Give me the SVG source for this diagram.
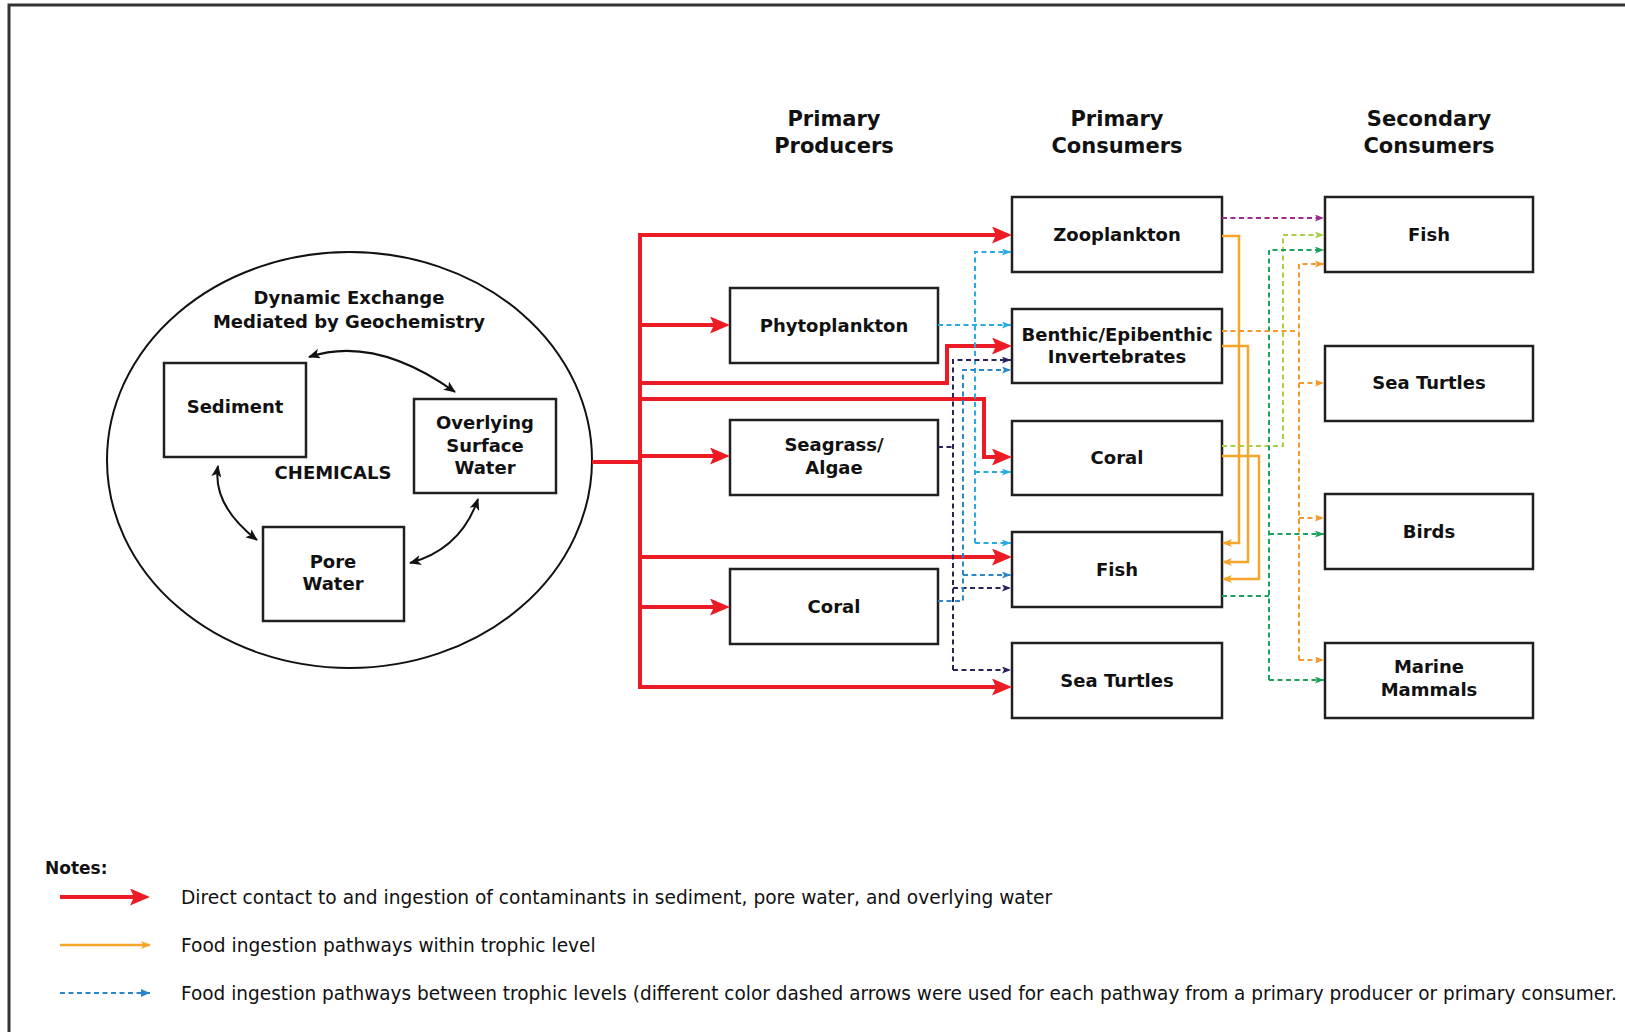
<svg xmlns="http://www.w3.org/2000/svg" width="1625" height="1032" viewBox="0 0 1625 1032">
<defs>
<style>
.box{fill:#fff;stroke:#231f20;stroke-width:2.5}
.lbl{font-family:"DejaVu Sans",sans-serif;font-weight:bold;font-size:18px;fill:#111;text-anchor:middle}
.hdr{font-family:"DejaVu Sans",sans-serif;font-weight:bold;font-size:21px;fill:#111;text-anchor:middle}
.note{font-family:"DejaVu Sans",sans-serif;font-size:18.6px;fill:#111}
.red{fill:none;stroke:#ed1c24;stroke-width:4;marker-end:url(#mR)}
.redl{fill:none;stroke:#ed1c24;stroke-width:4}
.osol{fill:none;stroke:#f5a52a;stroke-width:2.5}
.d{fill:none;stroke-width:2;stroke-dasharray:5 3.5}
.bk{fill:none;stroke:#111;stroke-width:2;marker-start:url(#mK);marker-end:url(#mK)}
</style>
<marker id="mR" markerUnits="userSpaceOnUse" markerWidth="20" markerHeight="17" viewBox="0 0 20 17" refX="10" refY="8.5" orient="auto"><path d="M0,0 L20,8.5 L0,17 L4,8.5 z" fill="#ed1c24"/></marker>
<marker id="mO" markerUnits="userSpaceOnUse" markerWidth="10" markerHeight="8" viewBox="0 0 10 8" refX="9" refY="4" orient="auto"><path d="M0,0 L10,4 L0,8 L2.5,4 z" fill="#f5a52a"/></marker>
<marker id="mK" markerUnits="userSpaceOnUse" markerWidth="12" markerHeight="10" viewBox="0 0 12 10" refX="11" refY="5" orient="auto-start-reverse"><path d="M0,0 L12,5 L0,10 L3,5 z" fill="#111"/></marker>
<marker id="mLB" markerUnits="userSpaceOnUse" markerWidth="9" markerHeight="7" viewBox="0 0 9 7" refX="9" refY="3.5" orient="auto"><path d="M0,0 L9,3.5 L0,7 L2,3.5 z" fill="#29abe2"/></marker>
<marker id="mMB" markerUnits="userSpaceOnUse" markerWidth="9" markerHeight="7" viewBox="0 0 9 7" refX="9" refY="3.5" orient="auto"><path d="M0,0 L9,3.5 L0,7 L2,3.5 z" fill="#2a86c8"/></marker>
<marker id="mNV" markerUnits="userSpaceOnUse" markerWidth="9" markerHeight="7" viewBox="0 0 9 7" refX="9" refY="3.5" orient="auto"><path d="M0,0 L9,3.5 L0,7 L2,3.5 z" fill="#27235e"/></marker>
<marker id="mPU" markerUnits="userSpaceOnUse" markerWidth="9" markerHeight="7" viewBox="0 0 9 7" refX="9" refY="3.5" orient="auto"><path d="M0,0 L9,3.5 L0,7 L2,3.5 z" fill="#9e2a8e"/></marker>
<marker id="mYG" markerUnits="userSpaceOnUse" markerWidth="9" markerHeight="7" viewBox="0 0 9 7" refX="9" refY="3.5" orient="auto"><path d="M0,0 L9,3.5 L0,7 L2,3.5 z" fill="#a8cf45"/></marker>
<marker id="mGR" markerUnits="userSpaceOnUse" markerWidth="9" markerHeight="7" viewBox="0 0 9 7" refX="9" refY="3.5" orient="auto"><path d="M0,0 L9,3.5 L0,7 L2,3.5 z" fill="#1da15a"/></marker>
<marker id="mOD" markerUnits="userSpaceOnUse" markerWidth="9" markerHeight="7" viewBox="0 0 9 7" refX="9" refY="3.5" orient="auto"><path d="M0,0 L9,3.5 L0,7 L2,3.5 z" fill="#f39a2c"/></marker>
<marker id="mLeg" markerUnits="userSpaceOnUse" markerWidth="9" markerHeight="8" viewBox="0 0 9 8" refX="9" refY="4" orient="auto"><path d="M0,0 L9,4 L0,8 z" fill="#2a86c8"/></marker>
</defs>
<rect x="0" y="0" width="1625" height="1032" fill="#fff"/>
<path d="M9,1032 V5 H1625" fill="none" stroke="#333" stroke-width="3"/>

<!-- headers -->
<g id="headers">
<text class="hdr" x="834" y="126">Primary</text>
<text class="hdr" x="834" y="153">Producers</text>
<text class="hdr" x="1117" y="126">Primary</text>
<text class="hdr" x="1117" y="153">Consumers</text>
<text class="hdr" x="1429" y="126">Secondary</text>
<text class="hdr" x="1429" y="153">Consumers</text>
</g>

<!-- chemical exchange ellipse -->
<g id="exchange">
<ellipse cx="349.5" cy="460" rx="242.5" ry="208" fill="#fff" stroke="#111" stroke-width="2"/>
<text class="lbl" x="349" y="304">Dynamic Exchange</text>
<text class="lbl" x="349" y="328">Mediated by Geochemistry</text>
<text class="lbl" x="333" y="479">CHEMICALS</text>
</g>
<g id="sediment"><rect class="box" x="164" y="363" width="142" height="94"/><text class="lbl" x="235" y="413">Sediment</text></g>
<g id="overlying"><rect class="box" x="414" y="399" width="142" height="94"/><text class="lbl" x="485" y="429">Overlying</text><text class="lbl" x="485" y="452">Surface</text><text class="lbl" x="485" y="474">Water</text></g>
<g id="porewater"><rect class="box" x="263" y="527" width="141" height="94"/><text class="lbl" x="333" y="568">Pore</text><text class="lbl" x="333" y="590">Water</text></g>

<!-- primary producers -->
<g id="pp-phyto"><rect class="box" x="730" y="288" width="208" height="75"/><text class="lbl" x="834" y="332">Phytoplankton</text></g>
<g id="pp-seagrass"><rect class="box" x="730" y="420" width="208" height="75"/><text class="lbl" x="834" y="451">Seagrass/</text><text class="lbl" x="834" y="474">Algae</text></g>
<g id="pp-coral"><rect class="box" x="730" y="569" width="208" height="75"/><text class="lbl" x="834" y="613">Coral</text></g>

<!-- primary consumers -->
<g id="pc-zoo"><rect class="box" x="1012" y="197" width="210" height="75"/><text class="lbl" x="1117" y="241">Zooplankton</text></g>
<g id="pc-benthic"><rect class="box" x="1012" y="309" width="210" height="74"/><text class="lbl" x="1117" y="341">Benthic/Epibenthic</text><text class="lbl" x="1117" y="363">Invertebrates</text></g>
<g id="pc-coral"><rect class="box" x="1012" y="421" width="210" height="74"/><text class="lbl" x="1117" y="464">Coral</text></g>
<g id="pc-fish"><rect class="box" x="1012" y="532" width="210" height="75"/><text class="lbl" x="1117" y="576">Fish</text></g>
<g id="pc-turtles"><rect class="box" x="1012" y="643" width="210" height="75"/><text class="lbl" x="1117" y="687">Sea Turtles</text></g>

<!-- secondary consumers -->
<g id="sc-fish"><rect class="box" x="1325" y="197" width="208" height="75"/><text class="lbl" x="1429" y="241">Fish</text></g>
<g id="sc-turtles"><rect class="box" x="1325" y="346" width="208" height="75"/><text class="lbl" x="1429" y="389">Sea Turtles</text></g>
<g id="sc-birds"><rect class="box" x="1325" y="494" width="208" height="75"/><text class="lbl" x="1429" y="538">Birds</text></g>
<g id="sc-mammals"><rect class="box" x="1325" y="643" width="208" height="75"/><text class="lbl" x="1429" y="673">Marine</text><text class="lbl" x="1429" y="696">Mammals</text></g>

<!-- connectors -->
<g id="connectors">
<!-- exchange double arrows -->
<path class="bk" d="M309,357 Q375,335 455,392"/>
<path class="bk" d="M218,466 Q212,505 257,540"/>
<path class="bk" d="M478,499 Q461,549 410,563"/>

<!-- red direct contact -->
<path class="redl" d="M592,462 H640 M640,233 V689"/>
<path class="red" d="M638,235 H1002"/>
<path class="red" d="M640,325 H720"/>
<path class="red" d="M640,383 H947 V346 H1002"/>
<path class="red" d="M640,399 H984 V457 H1002"/>
<path class="red" d="M640,456 H720"/>
<path class="red" d="M640,557 H1002"/>
<path class="red" d="M640,607 H720"/>
<path class="red" d="M638,687 H1002"/>

<!-- light blue from phytoplankton -->
<g stroke="#29abe2">
<path class="d" d="M938,325 H1011" marker-end="url(#mLB)"/>
<path class="d" d="M975,543 V252 H1011" marker-end="url(#mLB)"/>
<path class="d" d="M975,472 H1011" marker-end="url(#mLB)"/>
<path class="d" d="M975,543 H1011" marker-end="url(#mLB)"/>
</g>
<!-- navy from seagrass -->
<g stroke="#27235e">
<path class="d" d="M938,447 H953"/>
<path class="d" d="M953,670 V360 H1011" marker-end="url(#mNV)"/>
<path class="d" d="M953,588 H1011" marker-end="url(#mNV)"/>
<path class="d" d="M953,670 H1011" marker-end="url(#mNV)"/>
</g>
<!-- medium blue from coral -->
<g stroke="#2a86c8">
<path class="d" d="M938,601 H963 V370 H1011" marker-end="url(#mMB)"/>
<path class="d" d="M963,575 H1011" marker-end="url(#mMB)"/>
</g>

<!-- orange solid within trophic level -->
<path class="osol" d="M1222,236 H1239 V543 H1223" marker-end="url(#mO)"/>
<path class="osol" d="M1222,346 H1248 V562 H1223" marker-end="url(#mO)"/>
<path class="osol" d="M1222,456 H1259 V579 H1223" marker-end="url(#mO)"/>

<!-- purple from zooplankton -->
<path class="d" stroke="#9e2a8e" d="M1222,218 H1324" marker-end="url(#mPU)"/>
<!-- yellow-green from coral -->
<path class="d" stroke="#a8cf45" d="M1222,446 H1283 V235 H1324" marker-end="url(#mYG)"/>
<!-- green from fish -->
<g stroke="#1da15a">
<path class="d" d="M1222,596 H1269"/>
<path class="d" d="M1269,680 V250 H1324" marker-end="url(#mGR)"/>
<path class="d" d="M1269,534 H1324" marker-end="url(#mGR)"/>
<path class="d" d="M1269,680 H1324" marker-end="url(#mGR)"/>
</g>
<!-- orange dashed from benthic -->
<g stroke="#f39a2c">
<path class="d" d="M1222,331 H1299"/>
<path class="d" d="M1299,660 V264 H1324" marker-end="url(#mOD)"/>
<path class="d" d="M1299,383 H1324" marker-end="url(#mOD)"/>
<path class="d" d="M1299,518 H1324" marker-end="url(#mOD)"/>
<path class="d" d="M1299,660 H1324" marker-end="url(#mOD)"/>
</g>
</g>

<!-- legend -->
<g id="legend">
<text x="45" y="874" font-family="DejaVu Sans, sans-serif" font-weight="bold" font-size="17" fill="#111">Notes:</text>
<path class="red" d="M60,897 H140"/>
<text class="note" x="181" y="904">Direct contact to and ingestion of contaminants in sediment, pore water, and overlying water</text>
<path class="osol" d="M60,945 H150" marker-end="url(#mO)"/>
<text class="note" x="181" y="952">Food ingestion pathways within trophic level</text>
<path class="d" stroke="#2a86c8" d="M60,993 H150" marker-end="url(#mLeg)"/>
<text class="note" x="181" y="1000" textLength="1436" lengthAdjust="spacingAndGlyphs">Food ingestion pathways between trophic levels (different color dashed arrows were used for each pathway from a primary producer or primary consumer.</text>
</g>
</svg>
